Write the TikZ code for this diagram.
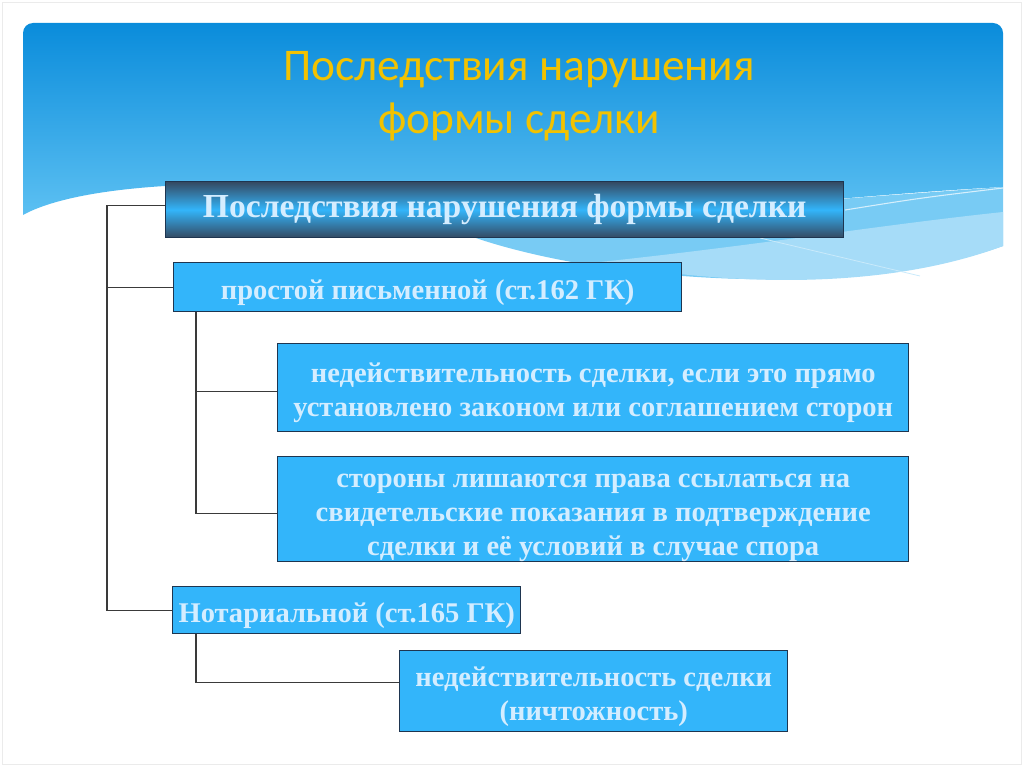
\documentclass[tikz,border=0pt]{standalone}
\usepackage{fontspec}
\setmainfont{Liberation Serif}
\newfontfamily\titlefont{Carlito}
\definecolor{headtop}{HTML}{0A8CDB}
\definecolor{headbot}{HTML}{5CC0F2}
\definecolor{wavemid}{HTML}{78CBF4}
\definecolor{wavelow}{HTML}{A6DCF8}
\definecolor{boxfill}{HTML}{33B5FA}
\definecolor{boxline}{HTML}{1E3550}
\definecolor{boxtext}{HTML}{D4EDFF}
\definecolor{titlegold}{HTML}{F2C200}
\definecolor{linkgray}{HTML}{3A3A3A}
\newcommand{\lowered}[1]{\raisebox{-4pt}[\height][\depth]{\begin{tabular}{@{}c@{}}#1\end{tabular}}}
\tikzset{
  block/.style={draw=boxline, line width=1.1pt, fill=boxfill, text=boxtext,
    font=\bfseries\fontsize{21.4}{25.5}\selectfont, align=center, inner sep=0pt,
    anchor=north west},
  headblock/.style={block, fill=none, top color=boxline!90, bottom color=boxline!90,
    middle color=boxfill, font=\fontsize{25.2}{28}\selectfont\bfseries},
  link/.style={draw=linkgray, line width=1pt}
}
\begin{document}
\begin{tikzpicture}[x=0.75pt, y=-0.75pt]

        \useasboundingbox (0,0) rectangle (1024,767);
        \draw[black!8] (2,2) rectangle (1021,764);

        % header background
        \shade[top color=headtop, bottom color=headbot]
        (23,215) -- (23,33) arc (180:270:10) -- (993,23) arc (270:360:10)
        -- (1003,187) .. controls (850,195) and (700,215) .. (560,215)
        .. controls (400,200) and (250,182) .. (165,186)
        .. controls (100,190) and (50,200) .. (23,215) -- cycle;
        \fill[wavemid] (470,236) .. controls (600,282) and (850,300) .. (1003,246)
        -- (1003,187) .. controls (850,198) and (650,212) .. (470,236) -- cycle;
        \fill[wavelow] (600,262) .. controls (720,285) and (880,292) .. (1003,246)
        -- (1003,212) .. controls (880,225) and (760,245) .. (600,262) -- cycle;
        \draw[white!70!wavemid, line width=0.8pt] (845,210) .. controls (920,198) .. (1003,188);
        \draw[white!60!wavemid, line width=0.6pt] (760,238) -- (920,276);

        \node [font=\titlefont\fontsize{34}{40}\selectfont, text=titlegold, align=center]
        (title) at (519,96) {Последствия нарушения\\формы сделки};

        \node [headblock, minimum width=0.75*678pt, minimum height=0.75*56pt] (main) at (165,181)
        {Последствия нарушения формы сделки};
        \node [block, minimum width=0.75*508pt, minimum height=0.75*49pt] (simple) at (173,262)
        {\lowered{простой письменной (ст.162 ГК)}};
        \node [block, minimum width=0.75*631pt, minimum height=0.75*88pt] (invalid) at (277,343)
        {\lowered{недействительность сделки, если это прямо\\установлено законом или соглашением сторон}};
        \node [block, minimum width=0.75*631pt, minimum height=0.75*105pt] (witness) at (277,456)
        {\lowered{стороны лишаются права ссылаться на\\свидетельские показания в подтверждение\\сделки и её условий в случае спора}};
        \node [block, minimum width=0.75*348pt, minimum height=0.75*47pt] (notary) at (172,586)
        {\lowered{Нотариальной (ст.165 ГК)}};
        \node [block, minimum width=0.75*388pt, minimum height=0.75*81pt] (void) at (399,650)
        {\lowered{недействительность сделки\\(ничтожность)}};

        \path ([yshift=3pt]main.west) -- ++(-58,0) coordinate (trunk);

        \draw [link] ([yshift=3pt]main.west) -- (trunk) |- (notary.west);
        \draw [link] (simple.west) -- (simple.west -| trunk);
        \draw [link] (simple.south west) ++(23,0) |- ([yshift=-3pt]invalid.west);
        \draw [link] (simple.south west) ++(23,0) |- ([yshift=-3.4pt]witness.west);
        \draw [link] (notary.south west) ++(24,0) |- ([yshift=6.4pt]void.west);

    \end{tikzpicture}
\end{document}
